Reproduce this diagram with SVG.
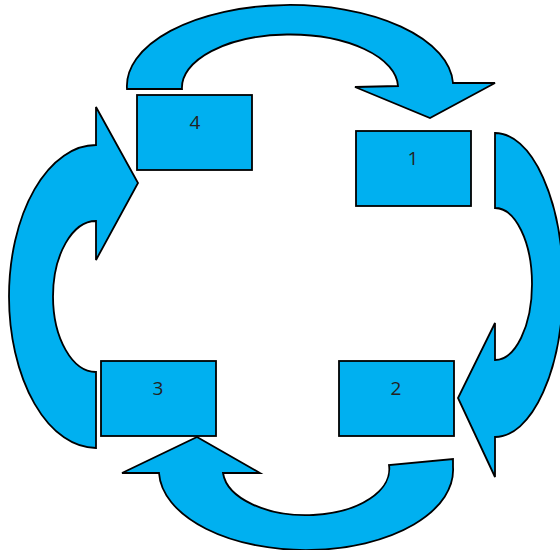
<svg xmlns="http://www.w3.org/2000/svg" width="560" height="550" viewBox="0 0 560 550">
<style>
.shape{fill:#00B0F0;stroke:#000;stroke-width:1.8;stroke-linejoin:miter}
.lbl{font-family:"Open Sans","Liberation Sans",sans-serif;font-size:19px;fill:#222;text-anchor:middle}
</style>
<rect width="560" height="550" fill="#fff"/>
<g id="connectors">
<path class="shape" d="M127,89 A163,81 0 0 1 453,83 L495,83 L430,118 L355,87 L398,86 A108,53 0 0 0 182,89 Z"/>
<path class="shape" d="M495,133 A68,152 0 0 1 495,437 L495,477 L458,398 L495,323 L495,360 A37,76 0 0 0 495,208 Z"/>
<path class="shape" d="M197,437 L260,473 L223,473 A83,46 0 0 0 389,465 L453,459 L453,467 A147,80 0 0 1 159,473 L122,473 Z"/>
<path class="shape" d="M96,448 A87,151.5 0 0 1 96,145 L96,107 L138,183 L96,260 L96,221 A43,75.5 0 0 0 96,372 Z"/>
</g>
<g id="node1"><rect class="shape" x="356" y="131" width="115" height="75"/><text class="lbl" x="413" y="165">1</text></g>
<g id="node2"><rect class="shape" x="339" y="361" width="115" height="75"/><text class="lbl" x="396" y="395">2</text></g>
<g id="node3"><rect class="shape" x="101" y="361" width="115" height="75"/><text class="lbl" x="158" y="395">3</text></g>
<g id="node4"><rect class="shape" x="137" y="95" width="115" height="75"/><text class="lbl" x="195" y="129">4</text></g>
</svg>
